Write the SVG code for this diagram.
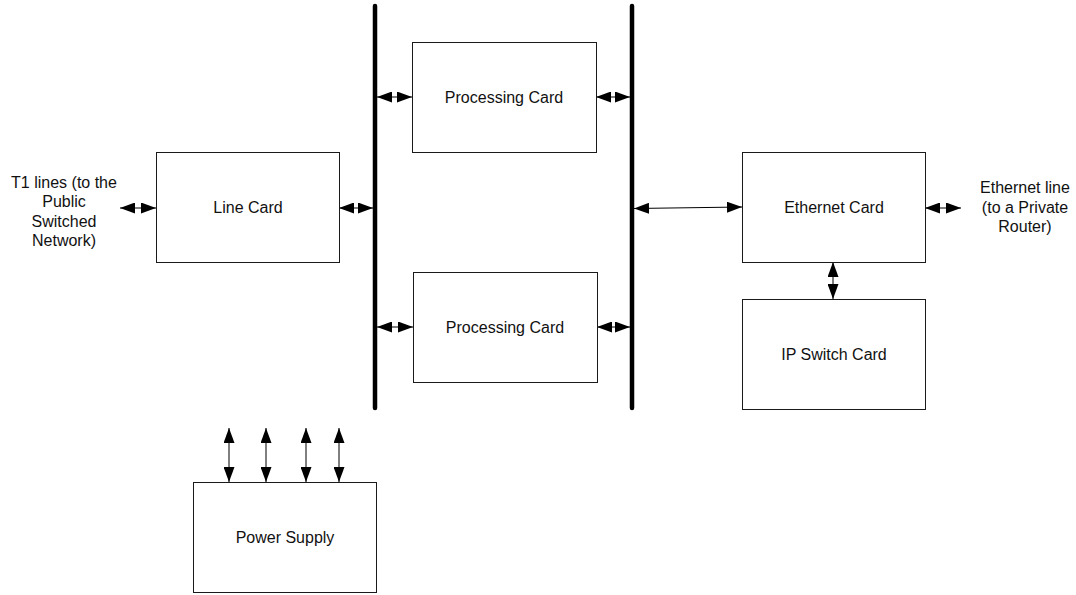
<svg xmlns="http://www.w3.org/2000/svg" width="1076" height="595" viewBox="0 0 1076 595">
  <style>
    .box { fill: #ffffff; stroke: #1a1a1a; stroke-width: 1; }
    .lbl { font-family: "Liberation Sans", Arial, sans-serif; font-size: 16px; fill: #111111; text-anchor: middle; }
    .bus { stroke: #000000; stroke-width: 4.5; stroke-linecap: round; fill: none; }
    .link { stroke: #000000; stroke-width: 1; fill: none; marker-start: url(#head); marker-end: url(#head); }
  </style>
  <defs>
    <marker id="head" viewBox="0 0 15 11" refX="15" refY="5.5" markerWidth="15" markerHeight="11" markerUnits="userSpaceOnUse" orient="auto-start-reverse">
      <path d="M0,0 L15,5.5 L0,11 z" fill="#000000"/>
    </marker>
  </defs>

  <!-- backplane buses -->
  <g id="buses">
    <line class="bus" x1="375" y1="6" x2="375" y2="408"/>
    <line class="bus" x1="632" y1="6" x2="632" y2="408"/>
  </g>

  <!-- connectors -->
  <g id="connectors">
    <line class="link" x1="120" y1="208" x2="156" y2="208"/>
    <line class="link" x1="339" y1="208" x2="373" y2="208"/>
    <line class="link" x1="377" y1="97" x2="412" y2="97"/>
    <line class="link" x1="596" y1="97" x2="630" y2="97"/>
    <line class="link" x1="377" y1="327" x2="413" y2="327"/>
    <line class="link" x1="597" y1="327" x2="630" y2="327"/>
    <line class="link" x1="634" y1="208.5" x2="742" y2="207"/>
    <line class="link" x1="925" y1="208" x2="961" y2="208"/>
    <line class="link" x1="833" y1="262" x2="833" y2="299"/>
    <line class="link" x1="229" y1="428" x2="229" y2="482"/>
    <line class="link" x1="266" y1="428" x2="266" y2="482"/>
    <line class="link" x1="306" y1="428" x2="306" y2="482"/>
    <line class="link" x1="339" y1="428" x2="339" y2="482"/>
  </g>

  <g id="t1-lines">
    <text class="lbl" x="64" y="188">T1 lines (to the</text>
    <text class="lbl" x="64" y="207">Public</text>
    <text class="lbl" x="64" y="227">Switched</text>
    <text class="lbl" x="64" y="246">Network)</text>
  </g>

  <g id="line-card">
    <rect class="box" x="156.5" y="152.5" width="183" height="110"/>
    <text class="lbl" x="248" y="213">Line Card</text>
  </g>

  <g id="processing-card-1">
    <rect class="box" x="412.5" y="42.5" width="184" height="110"/>
    <text class="lbl" x="504" y="103">Processing Card</text>
  </g>

  <g id="processing-card-2">
    <rect class="box" x="413.5" y="272.5" width="184" height="110"/>
    <text class="lbl" x="505" y="333">Processing Card</text>
  </g>

  <g id="ethernet-card">
    <rect class="box" x="742.5" y="152.5" width="183" height="110"/>
    <text class="lbl" x="834" y="213">Ethernet Card</text>
  </g>

  <g id="ip-switch-card">
    <rect class="box" x="742.5" y="299.5" width="183" height="110"/>
    <text class="lbl" x="834" y="360">IP Switch Card</text>
  </g>

  <g id="ethernet-line">
    <text class="lbl" x="1025" y="193">Ethernet line</text>
    <text class="lbl" x="1025" y="213">(to a Private</text>
    <text class="lbl" x="1025" y="232">Router)</text>
  </g>

  <g id="power-supply">
    <rect class="box" x="193.5" y="482.5" width="183" height="110"/>
    <text class="lbl" x="285" y="543">Power Supply</text>
  </g>
</svg>
